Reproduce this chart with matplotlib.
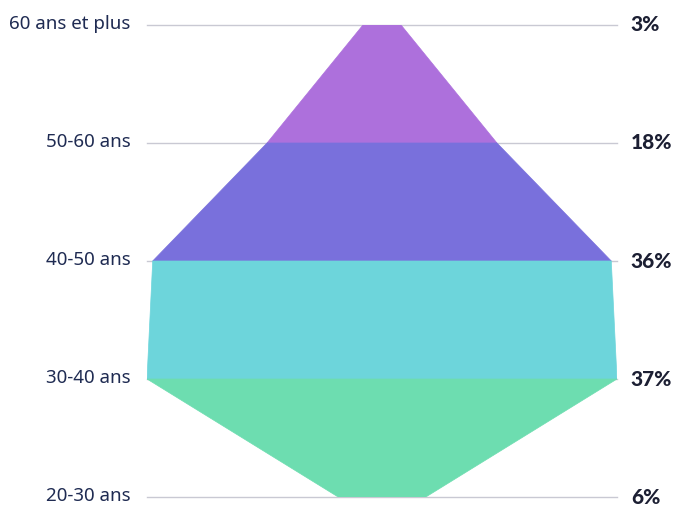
import matplotlib.pyplot as plt
from matplotlib.patches import Polygon

# data, top to bottom
age_groups = ['60 ans et plus', '50-60 ans', '40-50 ans', '30-40 ans', '20-30 ans']
pct_labels = ['3%', '18%', '36%', '37%', '6%']
# funnel width at each level (in %)
widths = [3, 18.1, 36.1, 37, 6.9]
band_colors = ['#AD70DC', '#7970DC', '#6DD5DB', '#6DDDB0']

plt.rcParams['font.family'] = ['Noto Sans', 'DejaVu Sans']

fig = plt.figure(figsize=(6.78, 5.05), dpi=100)
ax = fig.add_axes([147 / 678, 1 - 497 / 505, 470 / 678, 472 / 505])

half = max(widths) / 2
ax.set_xlim(-half, half)
ax.set_ylim(len(widths) - 1, 0)
ax.axis('off')

for i in range(len(widths)):
    ax.plot([-half, half], [i, i], color='#c9c9d3', linewidth=1, zorder=1, clip_on=False)

for i in range(len(widths) - 1):
    w0 = widths[i] / 2
    w1 = widths[i + 1] / 2
    poly = Polygon([(-w0, i), (w0, i), (w1, i + 1), (-w1, i + 1)], closed=True,
                   facecolor=band_colors[i], edgecolor=band_colors[i], linewidth=0.5, zorder=2)
    ax.add_patch(poly)

for i, (name, pct) in enumerate(zip(age_groups, pct_labels)):
    ax.annotate(name, xy=(-half, i), xytext=(-12, 1), textcoords='offset points',
                ha='right', va='center', fontsize=13.5, color='#1f2b52', annotation_clip=False)
    ax.annotate(pct, xy=(half, i), xytext=(10, 0), textcoords='offset points',
                ha='left', va='center', fontsize=15, fontweight='black', color='#1c1f33',
                family=['Lato', 'DejaVu Sans'], annotation_clip=False)

fig.savefig('out.png', dpi=100)
